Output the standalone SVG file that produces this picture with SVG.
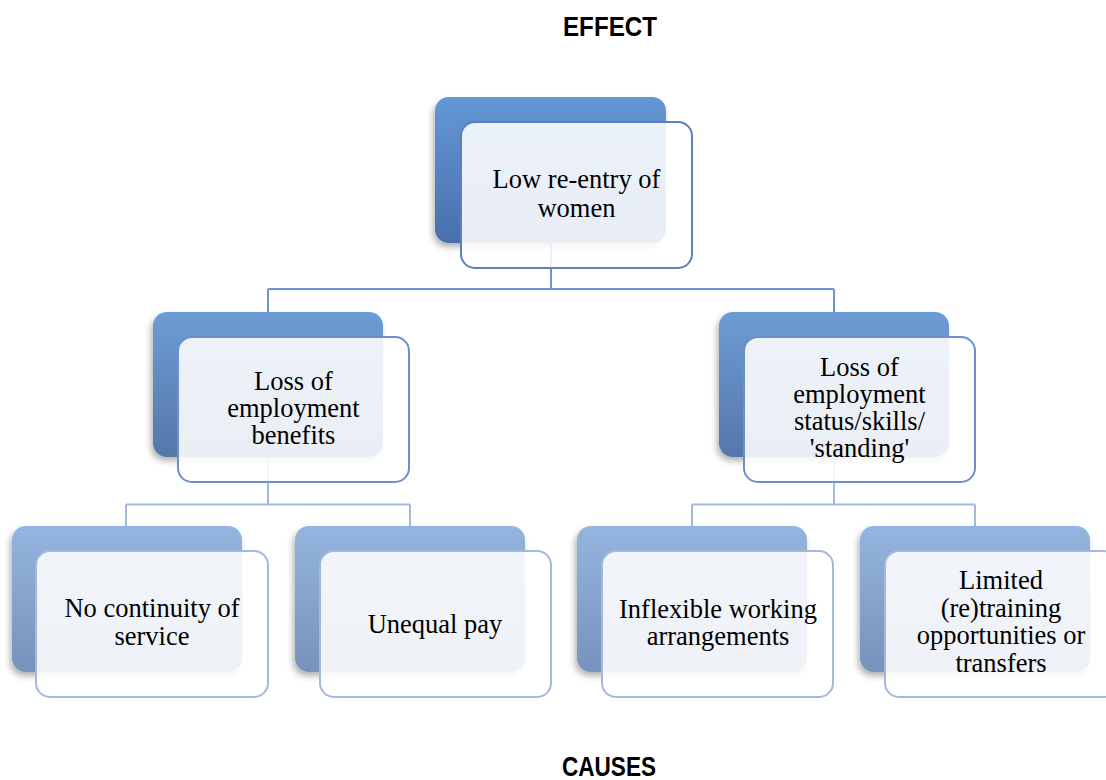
<svg xmlns="http://www.w3.org/2000/svg" width="1106" height="780" viewBox="0 0 1106 780">
<defs>
<linearGradient id="g1" x1="0" y1="0" x2="0" y2="1"><stop offset="0" stop-color="#6597d6"/><stop offset="1" stop-color="#4870ac"/></linearGradient>
<linearGradient id="g2" x1="0" y1="0" x2="0" y2="1"><stop offset="0" stop-color="#6d9cd6"/><stop offset="1" stop-color="#5577a9"/></linearGradient>
<linearGradient id="g3" x1="0" y1="0" x2="0" y2="1"><stop offset="0" stop-color="#94b5df"/><stop offset="1" stop-color="#7792bc"/></linearGradient>
<filter id="sh" x="-20%" y="-20%" width="140%" height="150%"><feDropShadow dx="-2" dy="4" stdDeviation="3" flood-color="#000" flood-opacity="0.3"/></filter>
</defs>
<style>
.t{font-family:"Liberation Serif","Times New Roman",serif;font-size:26.5px;fill:#000;text-anchor:middle}
.h{font-family:"Liberation Sans",Arial,sans-serif;font-weight:bold;font-size:28px;fill:#000;text-anchor:middle}
.f{fill:#fff;fill-opacity:0.88;stroke-width:2}
.b1{fill:url(#g1);filter:url(#sh)}
.b2{fill:url(#g2);filter:url(#sh)}
.b3{fill:url(#g3);filter:url(#sh)}
.c1{stroke:#6f93cc;stroke-width:2;fill:none}
.c2{stroke:#a3b8dc;stroke-width:2;fill:none}
</style>
<rect width="1106" height="780" fill="#fff"/>
<text class="h" x="610" y="36" textLength="94" lengthAdjust="spacingAndGlyphs">EFFECT</text>
<text class="h" x="609" y="776" textLength="94" lengthAdjust="spacingAndGlyphs">CAUSES</text>
<g id="connectors">
<path class="c1" d="M551 243V289M268 289H834M268 289V312M834 289V312"/>
<path class="c2" d="M268 457V504.5M126 504.5H410M126 504.5V526M410 504.5V526"/>
<path class="c2" d="M834 457V504.5M692 504.5H975M692 504.5V526M975 504.5V526"/>
</g>
<g id="n-top">
<rect class="b1" x="435" y="97" width="231" height="146" rx="14"/>
<rect class="f" x="461" y="122" width="231" height="146" rx="14" stroke="#5b80bf"/>
<text class="t" x="576.5" y="188">Low re-entry of</text>
<text class="t" x="576.5" y="217">women</text>
</g>
<g id="n-benefits">
<rect class="b2" x="153" y="312" width="230" height="145" rx="14"/>
<rect class="f" x="178" y="337" width="231" height="145" rx="14" stroke="#6d90c8"/>
<text class="t" x="293.5" y="390">Loss of</text>
<text class="t" x="293.5" y="417">employment</text>
<text class="t" x="293.5" y="444">benefits</text>
</g>
<g id="n-status">
<rect class="b2" x="719" y="312" width="230" height="145" rx="14"/>
<rect class="f" x="744" y="337" width="231" height="145" rx="14" stroke="#6d90c8"/>
<text class="t" x="859.5" y="376">Loss of</text>
<text class="t" x="859.5" y="403">employment</text>
<text class="t" x="859.5" y="430">status/skills/</text>
<text class="t" x="859.5" y="457">'standing'</text>
</g>
<g id="n-continuity">
<rect class="b3" x="12" y="526" width="230" height="146" rx="14"/>
<rect class="f" x="36" y="551" width="232" height="146" rx="14" stroke="#a3b8dc"/>
<text class="t" x="152" y="617">No continuity of</text>
<text class="t" x="152" y="645">service</text>
</g>
<g id="n-pay">
<rect class="b3" x="295" y="526" width="230" height="146" rx="14"/>
<rect class="f" x="320" y="551" width="231" height="146" rx="14" stroke="#a3b8dc"/>
<text class="t" x="435" y="633">Unequal pay</text>
</g>
<g id="n-flexible">
<rect class="b3" x="577" y="526" width="230" height="146" rx="14"/>
<rect class="f" x="602" y="551" width="231" height="146" rx="14" stroke="#a3b8dc"/>
<text class="t" x="718" y="618">Inflexible working</text>
<text class="t" x="718" y="645">arrangements</text>
</g>
<g id="n-training">
<rect class="b3" x="860" y="526" width="230" height="146" rx="14"/>
<rect class="f" x="885" y="551" width="232" height="146" rx="14" stroke="#a3b8dc"/>
<text class="t" x="1001" y="589">Limited</text>
<text class="t" x="1001" y="617">(re)training</text>
<text class="t" x="1001" y="644">opportunities or</text>
<text class="t" x="1001" y="672">transfers</text>
</g>
</svg>
